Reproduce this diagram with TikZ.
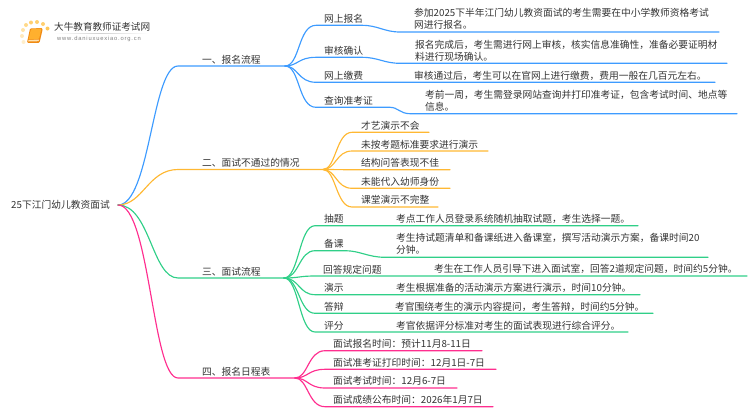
\documentclass[tikz,border=0pt]{standalone}
\usepackage{fontspec}
\setmainfont{Noto Sans CJK SC}
\newfontfamily\urlfont[LetterSpace=14]{Liberation Sans}
\definecolor{cblue}{HTML}{3D9BFF}
\definecolor{corange}{HTML}{FFB833}
\definecolor{cgreen}{HTML}{30CF88}
\definecolor{cpink}{HTML}{FF2E8F}
\definecolor{ctext}{HTML}{333333}
\tikzset{
  txt/.style={anchor=west,inner sep=0pt,text=ctext,font=\fontsize{9.75}{12.4}\selectfont,align=left,yshift=-0.5pt},
  link/.style={line width=1.15pt,line cap=round},
  dotm/.style={circle,fill=#1,draw=none,inner sep=0pt,minimum size=4pt}
}
\begin{document}
\begin{tikzpicture}[x=1pt,y=-1pt]
\useasboundingbox (0,0) rectangle (750,410);
% logo
\foreach \n/\x/\y/\c in {a/26/25/FFD98A,b/31/22.5/FFCF70,c/37/22/FFCF70,d/43/24/FFCF70,e/47.5/28.5/FFC85A,f/23/30/FFE3A8,g/22/36/FFE8BC,h/23.5/42/FFEECB}{
  \definecolor{dc}{HTML}{\c}
  \node[dotm=dc] (dot\n) at (\x,\y) {};
}
\definecolor{bookb}{HTML}{F08A12}
\definecolor{bookf}{HTML}{FFB02E}
\definecolor{bookp}{HTML}{FFE2B0}
\fill[bookb,rounded corners=1pt] (27,42.8) -- (30,28.5) -- (42.5,28) -- (42.5,30) -- (39.5,42.8) -- cycle;
\fill[bookp] (28.5,40) -- (39,39.5) -- (38.6,41.2) -- (28.2,41.5) -- cycle;
\fill[bookf,rounded corners=1pt] (28.5,39.5) -- (31,29) -- (41.5,28.5) -- (39,39) -- cycle;
\node[inner sep=0pt,text=ctext,font=\fontsize{9.6}{12}\selectfont,anchor=west] (logotitle) at (54,26.7) {大牛教育教师证考试网};
\shade[left color=white,right color=white,middle color=black!18] (54,33) rectangle (148,33.8);
\node[inner sep=0pt,text=black!50,font=\fontsize{5.8}{7}\urlfont,anchor=west] (logourl) at (57,39) {www.daniuxuexiao.org.cn};

% root
\node[txt] (root) at (11,204) {25下江门幼儿教资面试};
\coordinate (r) at (118,205);

% level 1 coordinates
\coordinate (A0) at (178,66);   \coordinate (A) at (285,66);
\coordinate (B0) at (178,169.5);\coordinate (B) at (323,169.5);
\coordinate (C0) at (178,278);  \coordinate (C) at (284,278);
\coordinate (D0) at (178,378);  \coordinate (D) at (295,378);
\node[txt] (la) at (202,59) {一、报名流程};
\node[txt] (lb) at (202,162.5) {二、面试不通过的情况};
\node[txt] (lc) at (202,271.7) {三、面试流程};
\node[txt] (ld) at (202,371) {四、报名日程表};
\draw[link,cblue] (r) .. controls (150,205) and (152,66) .. (A0) -- (A);
\draw[link,corange] (r) .. controls (143,205) and (148,169.5) .. (B0) -- (B);
\draw[link,cgreen] (r) .. controls (150,205) and (152,278) .. (C0) -- (C);
\draw[link,cpink] (r) .. controls (150,205) and (152,378) .. (D0) -- (D);

% branch 1
\coordinate (a1s) at (316,25.3); \coordinate (a1m) at (362,25.3); \coordinate (a1d) at (400,32); \coordinate (a1e) at (719,32);
\coordinate (a2s) at (316,57.3); \coordinate (a2m) at (362,57.3); \coordinate (a2d) at (400,63.3); \coordinate (a2e) at (727,63.3);
\coordinate (a3s) at (316,82.3); \coordinate (a3e) at (715,82.3);
\coordinate (a4s) at (316,107.3); \coordinate (a4m) at (390,107.3); \coordinate (a4d) at (410,113.7); \coordinate (a4e) at (737,113.7);
\draw[link,cblue] (A) .. controls (300,66) and (298,25.3) .. (a1s) -- (a1m) .. controls (378,25.3) and (384,32) .. (a1d) -- (a1e);
\draw[link,cblue] (A) .. controls (298,66) and (298,57.3) .. (a2s) -- (a2m) .. controls (378,57.3) and (384,63.3) .. (a2d) -- (a2e);
\draw[link,cblue] (A) .. controls (298,66) and (298,82.3) .. (a3s) -- (a3e);
\draw[link,cblue] (A) .. controls (300,66) and (298,107.3) .. (a4s) -- (a4m) .. controls (398,107.3) and (400,113.7) .. (a4d) -- (a4e);
\node[txt] (ta1) at (324,18) {网上报名};
\node[txt] (ta2) at (324,50) {审核确认};
\node[txt] (ta3) at (324,75) {网上缴费};
\node[txt] (ta4) at (324,100) {查询准考证};
\node[txt] (da1) at (414,18.3) {参加2025下半年江门幼儿教资面试的考生需要在中小学教师资格考试\\网进行报名。};
\node[txt] (da2) at (415,50) {报名完成后，考生需进行网上审核，核实信息准确性，准备必要证明材\\料进行现场确认。};
\node[txt] (da3) at (414,75) {审核通过后，考生可以在官网上进行缴费，费用一般在几百元左右。};
\node[txt] (da4) at (425,100) {考前一周，考生需登录网站查询并打印准考证，包含考试时间、地点等\\信息。};

% branch 2
\foreach \n/\y/\e in {1/132.3/429,2/151/488,3/169.7/450,4/188.3/450,5/207/438}{
  \coordinate (b\n s) at (352,\y);
  \coordinate (b\n e) at (\e,\y);
  \draw[link,corange] (B) .. controls (336,169.5) and (336,\y) .. (b\n s) -- (b\n e);
}
\node[txt] (tb1) at (361,125) {才艺演示不会};
\node[txt] (tb2) at (361,144) {未按考题标准要求进行演示};
\node[txt] (tb3) at (361,162.5) {结构问答表现不佳};
\node[txt] (tb4) at (361,181) {未能代入幼师身份};
\node[txt] (tb5) at (361,199.5) {课堂演示不完整};

% branch 3
\foreach \n/\y/\e in {1/225.7/638,3/276/747,4/294.7/640,5/313.3/653,6/332/628}{
  \coordinate (c\n s) at (315,\y);
  \coordinate (c\n e) at (\e,\y);
  \draw[link,cgreen] (C) .. controls (299,278) and (299,\y) .. (c\n s) -- (c\n e);
}
\coordinate (c2s) at (315,250.7); \coordinate (c2m) at (345,250.7); \coordinate (c2d) at (385,257.3); \coordinate (c2e) at (708,257.3);
\draw[link,cgreen] (C) .. controls (299,278) and (299,250.7) .. (c2s) -- (c2m) .. controls (360,250.7) and (368,257.3) .. (c2d) -- (c2e);
\node[txt] (tc1) at (324,218.3) {抽题};
\node[txt] (tc2) at (324,243.5) {备课};
\node[txt] (tc3) at (323,269) {回答规定问题};
\node[txt] (tc4) at (324,287) {演示};
\node[txt] (tc5) at (324,306) {答辩};
\node[txt] (tc6) at (324,325) {评分};
\node[txt] (dc1) at (396,218.3) {考点工作人员登录系统随机抽取试题，考生选择一题。};
\node[txt] (dc2) at (396,243) {考生持试题清单和备课纸进入备课室，撰写活动演示方案，备课时间20\\分钟。};
\node[txt] (dc3) at (434,268.7) {考生在工作人员引导下进入面试室，回答2道规定问题，时间约5分钟。};
\node[txt] (dc4) at (396,287) {考生根据准备的活动演示方案进行演示，时间10分钟。};
\node[txt] (dc5) at (395,306) {考官围绕考生的演示内容提问，考生答辩，时间约5分钟。};
\node[txt] (dc6) at (396,325) {考官依据评分标准对考生的面试表现进行综合评分。};

% branch 4
\foreach \n/\y/\e in {1/350.7/482,2/369.3/496,3/388/457,4/406.7/493}{
  \coordinate (d\n s) at (325,\y);
  \coordinate (d\n e) at (\e,\y);
  \draw[link,cpink] (D) .. controls (308,378) and (308,\y) .. (d\n s) -- (d\n e);
}
\node[txt] (td1) at (333,343.5) {面试报名时间：预计11月8-11日};
\node[txt] (td2) at (333,362) {面试准考证打印时间：12月1日-7日};
\node[txt] (td3) at (333,380.5) {面试考试时间：12月6-7日};
\node[txt] (td4) at (333,399.5) {面试成绩公布时间：2026年1月7日};
\end{tikzpicture}
\end{document}
